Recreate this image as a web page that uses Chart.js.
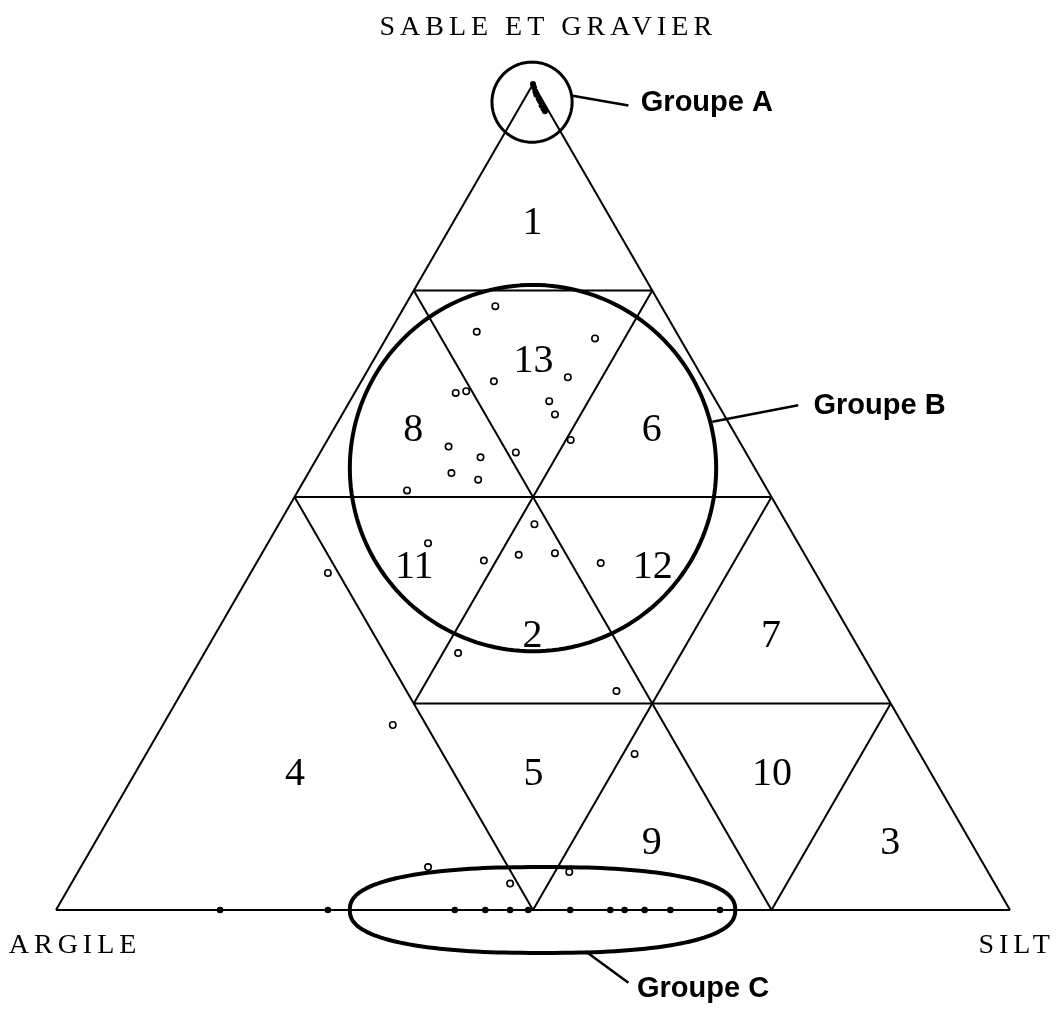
<!DOCTYPE html>
<html>
<head>
<meta charset="utf-8">
<script src="https://cdn.jsdelivr.net/npm/chart.js@4.4.0/dist/chart.umd.min.js"></script>
<style>
  html, body { margin: 0; background: #fff; }
  #cadre { width: 1056px; height: 1015px; }
</style>
</head>
<body>
<div id="cadre"><canvas id="ternaire"></canvas></div>
<script>
// Diagramme triangulaire : sable et gravier / argile / silt
const poles = ["SABLE ET GRAVIER", "ARGILE", "SILT"];

// limites des classes, segments [sable, silt] -> [sable, silt] (argile = reste)
const limites = [
  [[100, 0], [0, 0]],
  [[0, 0], [0, 100]],
  [[0, 100], [100, 0]],
  [[75, 0], [75, 25]],
  [[50, 0], [50, 50]],
  [[25, 25], [25, 75]],
  [[75, 0], [0, 75]],
  [[75, 25], [25, 25]],
  [[50, 0], [0, 50]],
  [[50, 50], [0, 50]],
  [[25, 75], [0, 75]]
];

// numéros des classes, placés au centre de chaque domaine
const classes = ["1", "13", "8", "6", "11", "2", "12", "7", "4", "5", "9", "10", "3"];
const classeSable = [83.3, 66.7, 58.3, 58.3, 41.7, 33.3, 41.7, 33.3, 16.7, 16.7, 8.3, 16.7, 8.3];
const classeSilt = [8.3, 16.7, 8.3, 33.3, 16.7, 33.3, 41.7, 58.3, 16.7, 41.7, 58.3, 66.7, 83.3];

// groupe A : sables purs, contre le sommet
const sableA = [100, 99.6, 99.1, 98.7, 98.2, 97.9, 97.4, 97.0, 96.7];
const siltA = [0, 0.3, 0.7, 1.0, 1.5, 1.8, 2.2, 2.6, 2.9];

// échantillons isolés (cercles vides)
const sableB = [73.1, 70.0, 69.2, 64.5, 64.0, 62.6, 62.8, 61.6, 60.0, 56.9, 56.1, 55.4, 54.8,
  52.9, 52.1, 50.8, 46.7, 44.4, 40.8, 42.3, 43.0, 43.2, 42.0, 31.1, 26.5, 18.9, 22.4,
  5.2, 4.6, 3.2];
const siltB = [9.5, 9.1, 21.9, 21.4, 13.9, 10.6, 11.6, 20.9, 22.3, 25.5, 13.1, 20.5, 17.1,
  15.0, 18.2, 11.4, 26.8, 16.8, 8.1, 23.7, 27.0, 30.7, 36.1, 26.6, 45.5, 51.2, 24.1,
  36.4, 51.5, 46.0];

// groupe C : échantillons sans sable (points pleins sur la base)
const siltC = [17.2, 28.5, 41.8, 45.0, 47.6, 49.5, 53.9, 58.1, 59.6, 61.7, 64.4, 69.6];

const versXY = (sable, silt) => ({ x: silt + sable / 2, y: sable });

const traits = limites.map(seg => ({
  data: seg.map(p => versXY(p[0], p[1])),
  showLine: true,
  borderColor: "#000",
  borderWidth: 2,
  pointRadius: 0,
  clip: false
}));

const jeux = traits.concat([
  {
    data: sableA.map((s, i) => versXY(s, siltA[i])),
    pointRadius: 3,
    borderWidth: 0,
    backgroundColor: "#000",
    clip: false
  },
  {
    data: sableB.map((s, i) => versXY(s, siltB[i])),
    pointRadius: 3.2,
    borderWidth: 1.6,
    borderColor: "#000",
    backgroundColor: "#fff",
    clip: false
  },
  {
    data: siltC.map(t => versXY(0, t)),
    pointRadius: 3.3,
    borderWidth: 0,
    backgroundColor: "#000",
    clip: false
  }
]);

// enveloppes des groupes et leurs légendes (coordonnées x/y du graphique)
// forme : 2 = cercle/ellipse, plus grand = contour plus carré
const enveloppes = [
  { nom: "Groupe A", cx: 49.9, cy: 97.8, rx: 4.2, ry: null, forme: 2, lw: 3,
    trait: [[54.0, 98.6], [60.0, 97.4]], texte: [61.3, 97.7] },
  { nom: "Groupe B", cx: 50.0, cy: 53.5, rx: 19.2, ry: null, forme: 2, lw: 4,
    trait: [[68.8, 59.1], [77.8, 61.1]], texte: [79.4, 61.0] },
  { nom: "Groupe C", cx: 51.0, cy: 0, rx: 20.2, ry: 5.2, forme: 2.4, lw: 4,
    trait: [[55.5, -5.0], [60.0, -8.8]], texte: [60.9, -9.6] }
];

function contour(ctx, cx, cy, rx, ry, n) {
  ctx.beginPath();
  for (let k = 0; k <= 180; k++) {
    const a = (k / 180) * Math.PI * 2;
    const c = Math.cos(a), s = Math.sin(a);
    const x = cx + rx * Math.sign(c) * Math.pow(Math.abs(c), 2 / n);
    const y = cy + ry * Math.sign(s) * Math.pow(Math.abs(s), 2 / n);
    if (k === 0) ctx.moveTo(x, y); else ctx.lineTo(x, y);
  }
  ctx.closePath();
  ctx.stroke();
}

const habillage = {
  id: "habillage",
  afterDatasetsDraw(chart) {
    const ctx = chart.ctx;
    const sx = chart.scales.x, sy = chart.scales.y;
    const px = v => sx.getPixelForValue(v), py = v => sy.getPixelForValue(v);
    ctx.save();
    ctx.strokeStyle = "#000";
    ctx.fillStyle = "#000";
    ctx.lineJoin = "round";

    enveloppes.forEach(g => {
      const cx = px(g.cx), cy = py(g.cy);
      const rx = px(g.cx + g.rx) - cx;
      const ry = g.ry === null ? rx : py(g.cy - g.ry) - cy;
      ctx.lineWidth = g.lw;
      contour(ctx, cx, cy, rx, ry, g.forme);
      ctx.lineWidth = 2.5;
      ctx.beginPath();
      ctx.moveTo(px(g.trait[0][0]), py(g.trait[0][1]));
      ctx.lineTo(px(g.trait[1][0]), py(g.trait[1][1]));
      ctx.stroke();
      ctx.font = "bold 29px 'Liberation Sans', Arial, sans-serif";
      ctx.textAlign = "left";
      ctx.textBaseline = "middle";
      ctx.fillText(g.nom, px(g.texte[0]), py(g.texte[1]));
    });

    ctx.font = "40px 'Liberation Serif', 'Times New Roman', serif";
    ctx.textAlign = "center";
    ctx.textBaseline = "middle";
    classes.forEach((c, i) => {
      const p = versXY(classeSable[i], classeSilt[i]);
      ctx.fillText(c, px(p.x), py(p.y) + 2);
    });

    ctx.font = "28px 'Liberation Serif', 'Times New Roman', serif";
    ctx.letterSpacing = "5px";
    ctx.fillText(poles[0], px(51.6), py(100) - 56);
    ctx.fillText(poles[1], px(2), py(0) + 36);
    ctx.fillText(poles[2], px(100.7), py(0) + 36);
    ctx.restore();
  }
};

new Chart(document.getElementById("ternaire"), {
  type: "scatter",
  data: { datasets: jeux },
  options: {
    responsive: true,
    maintainAspectRatio: false,
    animation: false,
    events: [],
    layout: { padding: { left: 56, right: 46, top: 84, bottom: 105 } },
    scales: {
      x: { type: "linear", min: 0, max: 100, display: false },
      y: { type: "linear", min: 0, max: 100, display: false }
    },
    plugins: { legend: { display: false }, tooltip: { enabled: false } }
  },
  plugins: [habillage]
});
</script>
</body>
</html>
